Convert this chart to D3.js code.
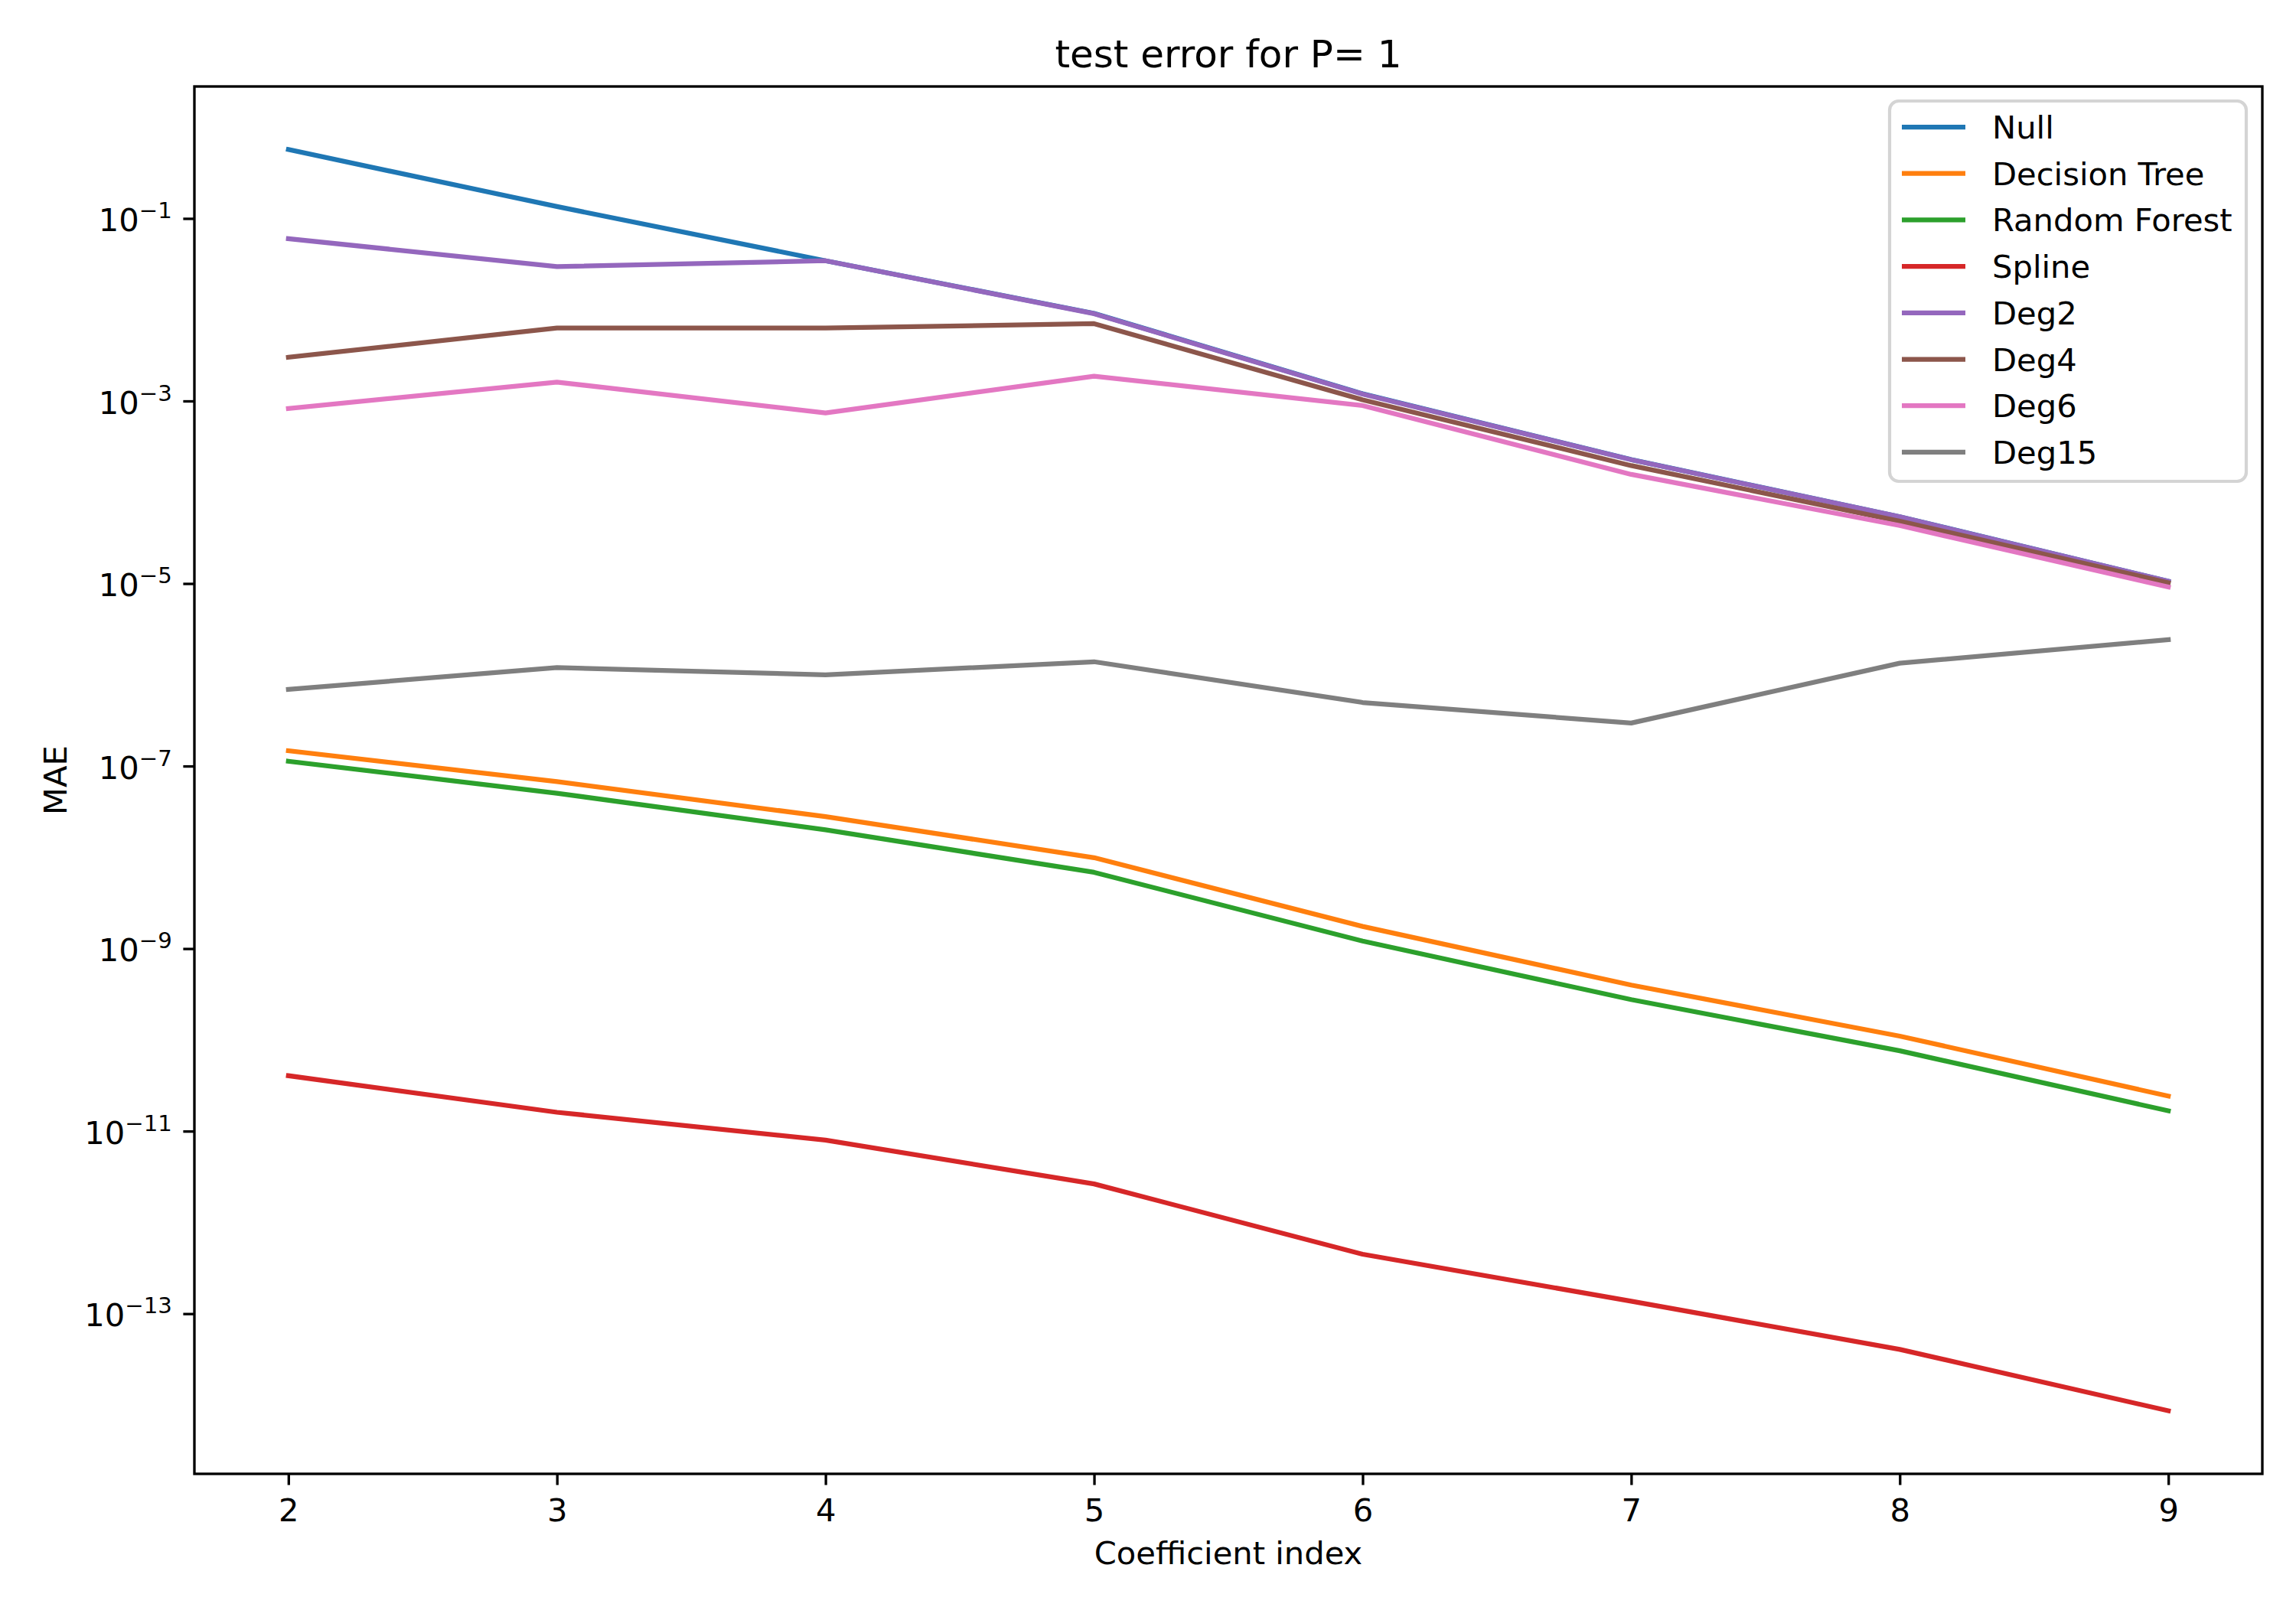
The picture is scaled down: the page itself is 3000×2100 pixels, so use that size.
<!DOCTYPE html>
<html>
<head>
<meta charset="utf-8">
<script src="https://cdn.jsdelivr.net/npm/d3@7"></script>
<style>
  html, body { margin: 0; padding: 0; background: #fff; }
  svg { display: block; font-family: "DejaVu Sans", sans-serif; }
</style>
</head>
<body>
<svg id="chart" width="3000" height="2100"></svg>
<script>
// ---- data ----
const xValues = [2, 3, 4, 5, 6, 7, 8, 9];
const seriesNames = ["Null", "Decision Tree", "Random Forest", "Spline", "Deg2", "Deg4", "Deg6", "Deg15"];
const seriesColors = ["#1f77b4", "#ff7f0e", "#2ca02c", "#d62728", "#9467bd", "#8c564b", "#e377c2", "#7f7f7f"];
const nullErr   = [0.569, 0.135, 0.0344, 0.00912, 0.00120, 2.28e-4, 5.40e-5, 1.06e-5];
const dtErr     = [1.47e-7, 6.76e-8, 2.79e-8, 9.91e-9, 1.75e-9, 3.99e-10, 1.10e-10, 2.42e-11];
const rfErr     = [1.13e-7, 5.04e-8, 2.00e-8, 6.85e-9, 1.21e-9, 2.76e-10, 7.59e-11, 1.67e-11];
const splineErr = [4.05e-11, 1.61e-11, 7.98e-12, 2.64e-12, 4.48e-13, 1.37e-13, 4.06e-14, 8.63e-15];
const deg2Err   = [0.0600, 0.0297, 0.0344, 0.00905, 0.00119, 2.27e-4, 5.38e-5, 1.06e-5];
const deg4Err   = [0.00301, 0.00631, 0.00631, 0.00703, 0.00103, 1.96e-4, 4.82e-5, 1.02e-5];
const deg6Err   = [8.28e-4, 0.00161, 7.41e-4, 0.00187, 8.91e-4, 1.57e-4, 4.32e-5, 9.16e-6];
const deg15Err  = [6.92e-7, 1.20e-6, 1.00e-6, 1.39e-6, 4.97e-7, 2.96e-7, 1.34e-6, 2.43e-6];
const seriesValues = [nullErr, dtErr, rfErr, splineErr, deg2Err, deg4Err, deg6Err, deg15Err];
const yTickExponents = [-13, -11, -9, -7, -5, -3, -1];
const titleText = "test error for P= 1";
const xLabelText = "Coefficient index";
const yLabelText = "MAE";

// ---- layout ----
const W = 3000, H = 2100;
const m = { left: 254, right: 2956, top: 113, bottom: 1926 };
const fs = 41.67;
const tickLen = 14.6, tickPad = 14.6, spineW = 3.33, lineW = 6.25;

const svg = d3.select("#chart");
svg.append("rect").attr("width", W).attr("height", H).attr("fill", "#fff");

// x scale with 5% margins
const xMin = d3.min(xValues), xMax = d3.max(xValues), xPad = (xMax - xMin) * 0.05;
const x = d3.scaleLinear().domain([xMin - xPad, xMax + xPad]).range([m.left, m.right]);

// y log scale with 5% margins in log space
const allVals = seriesValues.flat();
const lmin = Math.log10(d3.min(allVals)), lmax = Math.log10(d3.max(allVals));
const lpad = (lmax - lmin) * 0.05;
const y = d3.scaleLog().domain([Math.pow(10, lmin - lpad), Math.pow(10, lmax + lpad)]).range([m.bottom, m.top]);

// lines
const line = d3.line().x((d, i) => x(xValues[i])).y(d => y(d));
const plot = svg.append("g");
seriesValues.forEach((vals, i) => {
  plot.append("path")
    .datum(vals)
    .attr("d", line)
    .attr("fill", "none")
    .attr("stroke", seriesColors[i])
    .attr("stroke-width", lineW)
    .attr("stroke-linejoin", "round")
    .attr("stroke-linecap", "square");
});

// axes
const xAxis = d3.axisBottom(x).tickValues(xValues).tickFormat(d3.format("d"))
  .tickSize(tickLen).tickPadding(tickPad);
const gx = svg.append("g").attr("transform", `translate(0,${m.bottom})`).call(xAxis);
gx.select(".domain").remove();
gx.selectAll(".tick line").attr("stroke", "#000").attr("stroke-width", spineW);
gx.selectAll(".tick text").attr("font-size", fs).attr("fill", "#000")
  .attr("font-family", "DejaVu Sans").attr("dy", "0.78em");

const yAxis = d3.axisLeft(y).tickValues(yTickExponents.map(e => Math.pow(10, e)))
  .tickSize(tickLen).tickPadding(tickPad).tickFormat(() => "");
const gy = svg.append("g").attr("transform", `translate(${m.left},0)`).call(yAxis);
gy.select(".domain").remove();
gy.selectAll(".tick line").attr("stroke", "#000").attr("stroke-width", spineW);
gy.selectAll(".tick text").each(function(d) {
  const e = Math.round(Math.log10(d));
  const t = d3.select(this).text(null)
    .attr("font-size", fs).attr("fill", "#000").attr("font-family", "DejaVu Sans")
    .attr("dy", null).attr("y", 16);
  t.append("tspan").text("10");
  t.append("tspan").attr("dy", -17).attr("font-size", 29.2).text("\u2212" + Math.abs(e));
});

// frame
svg.append("rect")
  .attr("x", m.left).attr("y", m.top)
  .attr("width", m.right - m.left).attr("height", m.bottom - m.top)
  .attr("fill", "none").attr("stroke", "#000").attr("stroke-width", spineW)
  .attr("stroke-linejoin", "miter");

// title and labels
svg.append("text").attr("x", (m.left + m.right) / 2).attr("y", 88)
  .attr("text-anchor", "middle").attr("font-size", 50).attr("fill", "#000").text(titleText);
svg.append("text").attr("x", (m.left + m.right) / 2).attr("y", 2044)
  .attr("text-anchor", "middle").attr("font-size", fs).attr("fill", "#000").text(xLabelText);
svg.append("text")
  .attr("transform", `translate(87,${(m.top + m.bottom) / 2}) rotate(-90)`)
  .attr("text-anchor", "middle").attr("font-size", fs).attr("fill", "#000").text(yLabelText);

// legend
const lg = { x0: 2469, y0: 132, x1: 2935, y1: 629 };
const leg = svg.append("g");
leg.append("rect")
  .attr("x", lg.x0).attr("y", lg.y0)
  .attr("width", lg.x1 - lg.x0).attr("height", lg.y1 - lg.y0)
  .attr("rx", 12).attr("ry", 12)
  .attr("fill", "#fff").attr("fill-opacity", 0.8)
  .attr("stroke", "#d4d4d4").attr("stroke-width", 4.2);
const rowY0 = 166, rowStep = 60.7;
seriesNames.forEach((name, i) => {
  const cy = rowY0 + i * rowStep;
  leg.append("line").attr("x1", 2485).attr("x2", 2568).attr("y1", cy).attr("y2", cy)
    .attr("stroke", seriesColors[i]).attr("stroke-width", lineW).attr("stroke-linecap", "butt");
  leg.append("text").attr("x", 2603).attr("y", cy + 15)
    .attr("font-size", fs).attr("fill", "#000").text(name);
});
</script>
</body>
</html>
